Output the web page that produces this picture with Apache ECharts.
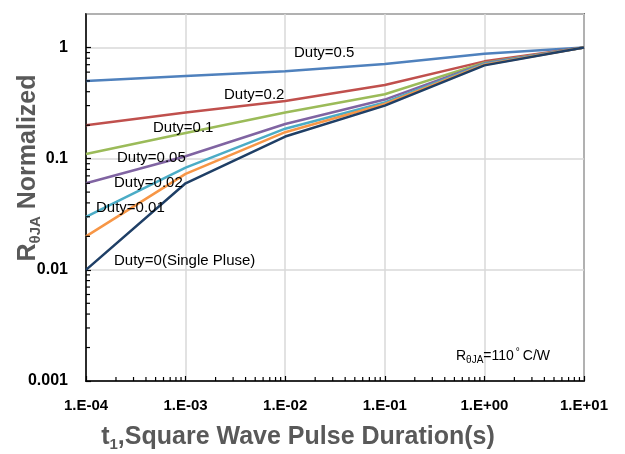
<!DOCTYPE html>
<html>
<head>
<meta charset="utf-8">
<script src="https://cdn.jsdelivr.net/npm/echarts@6/dist/echarts.min.js"></script>
<style>html,body{margin:0;padding:0;background:#fff;}#c{width:625px;height:454px;}</style>
</head>
<body>
<div id="c"></div>
<script>
const xValues = [1e-4, 1e-3, 1e-2, 1e-1, 1, 10];
const duty05 = [0.5, 0.555, 0.61, 0.71, 0.88, 1];
const duty02 = [0.2, 0.26, 0.33, 0.46, 0.75, 1];
const duty01 = [0.11, 0.17, 0.26, 0.38, 0.73, 1];
const duty005 = [0.06, 0.105, 0.205, 0.34, 0.72, 1];
const duty002 = [0.03, 0.083, 0.186, 0.32, 0.71, 1];
const duty001 = [0.02, 0.073, 0.173, 0.31, 0.70, 1];
const dutySingle = [0.01, 0.06, 0.158, 0.30, 0.69, 1];
const seriesNames = ['Duty=0.5','Duty=0.2','Duty=0.1','Duty=0.05','Duty=0.02','Duty=0.01','Duty=0(Single Pluse)'];
const xTickLabels = ['1.E-04','1.E-03','1.E-02','1.E-01','1.E+00','1.E+01'];
const yTickLabels = ['0.001','0.01','0.1','1'];
const xMinorTicks = [];
[-4,-3,-2,-1,0].forEach(k => { for (let m = 2; m <= 9; m++) xMinorTicks.push(m * Math.pow(10, k)); });
const yMinorTicks = [];
[-3,-2,-1].forEach(k => { for (let m = 2; m <= 9; m++) yMinorTicks.push(m * Math.pow(10, k)); });

const colors = ['#4F81BD','#C0504D','#9BBB59','#8064A2','#4BACC6','#F79646','#1F3F66'];
const allData = [duty05, duty02, duty01, duty005, duty002, duty001, dutySingle];

const chart = echarts.init(document.getElementById('c'));
const xMin = 1e-4, xMax = 10, yMin = 0.001, yMax = 2;

const lineSeries = allData.map((d, i) => ({
  name: seriesNames[i], type: 'line', symbol: 'none',
  data: xValues.map((x, j) => [x, d[j]]),
  lineStyle: {color: colors[i], width: 2.5}, z: 3
}));

const minorX = {
  type: 'custom', silent: true, clip: false, z: 4,
  data: xMinorTicks.map(v => [v, yMin]),
  renderItem: (params, api) => {
    const p = api.coord([api.value(0), api.value(1)]);
    return {type: 'line', shape: {x1: p[0], y1: p[1], x2: p[0], y2: p[1] - 4}, style: {stroke: '#000', lineWidth: 1.2}};
  }
};
const minorY = {
  type: 'custom', silent: true, clip: false, z: 4,
  data: yMinorTicks.map(v => [xMin, v]),
  renderItem: (params, api) => {
    const p = api.coord([api.value(0), api.value(1)]);
    return {type: 'line', shape: {x1: p[0], y1: p[1], x2: p[0] + 4, y2: p[1]}, style: {stroke: '#000', lineWidth: 1.2}};
  }
};

const annFont = '15px "Liberation Sans"';
function ann(text, x, y) {
  return {type: 'text', x: x, y: y, z: 10, style: {text: text, font: annFont, fill: '#000', textVerticalAlign: 'middle', textAlign: 'left'}};
}

chart.setOption({
  animation: false,
  backgroundColor: '#fff',
  grid: {left: 86, right: 41, top: 14, bottom: 73, show: true, borderColor: '#000', borderWidth: 1.5, backgroundColor: 'transparent'},
  xAxis: {
    type: 'log', logBase: 10, min: xMin, max: xMax,
    axisLine: {show: true, lineStyle: {color: '#000', width: 1.5}},
    axisTick: {show: true, inside: true, length: 5, lineStyle: {color: '#000', width: 1.2}},
    axisLabel: {margin: 17, fontFamily: 'Liberation Sans', fontWeight: 'bold', fontSize: 15, color: '#000', formatter: v => {
      const k = Math.round(Math.log10(v)) + 4; return xTickLabels[k] || '';
    }},
    splitLine: {show: true, lineStyle: {color: '#D9D9D9', width: 1.5}}
  },
  yAxis: {
    type: 'log', logBase: 10, min: yMin, max: yMax,
    axisLine: {show: true, lineStyle: {color: '#000', width: 1.5}},
    axisTick: {show: true, inside: true, length: 5, lineStyle: {color: '#000', width: 1.2}},
    axisLabel: {margin: 18, showMaxLabel: false, fontFamily: 'Liberation Sans', fontWeight: 'bold', fontSize: 16, color: '#000', formatter: v => {
      const l = Math.log10(v); const k = Math.round(l) + 3;
      if (Math.abs(l - Math.round(l)) > 1e-6) return '';
      return yTickLabels[k] || '';
    }},
    splitLine: {show: true, lineStyle: {color: '#D9D9D9', width: 1.5}}
  },
  series: lineSeries.concat([minorX, minorY]),
  graphic: [
    ann('Duty=0.5', 294, 53),
    ann('Duty=0.2', 224, 95),
    ann('Duty=0.1', 153, 128),
    ann('Duty=0.05', 117, 158),
    ann('Duty=0.02', 114, 183),
    ann('Duty=0.01', 96, 208),
    ann('Duty=0(Single Pluse)', 114, 261),
    {type: 'text', x: 456, y: 356, z: 10, style: {
      text: '{r|R}{s|θJA}{r|=110}{u|°}{r|C/W}', textVerticalAlign: 'middle', textAlign: 'left',
      rich: {
        r: {font: '14px "Liberation Sans"', fill: '#000', lineHeight: 18, verticalAlign: 'middle'},
        s: {font: '10px "Liberation Sans"', fill: '#000', lineHeight: 18, verticalAlign: 'bottom', padding: [4, 0, 0, 0]},
        u: {font: '10px "Liberation Sans"', fill: '#000', lineHeight: 18, verticalAlign: 'top', padding: [0, 3, 6, 2]}
      }
    }},
    {type: 'text', x: 298, y: 437, z: 10, style: {
      text: '{a|t}{b|1}{a|,Square Wave Pulse Duration(s)}', textAlign: 'center', textVerticalAlign: 'middle',
      rich: {
        a: {font: 'bold 25px "Liberation Sans"', fill: '#595959', lineHeight: 30, verticalAlign: 'middle'},
        b: {font: 'bold 15px "Liberation Sans"', fill: '#595959', lineHeight: 30, verticalAlign: 'bottom', padding: [9, 0, 0, 0]}
      }
    }},
    {type: 'text', x: 28, y: 168, rotation: Math.PI / 2, z: 10, style: {
      text: '{a|R}{b|θJA}{a| Normalized}', textAlign: 'center', textVerticalAlign: 'middle',
      rich: {
        a: {font: 'bold 25px "Liberation Sans"', fill: '#595959', lineHeight: 30, verticalAlign: 'middle'},
        b: {font: 'bold 15px "Liberation Sans"', fill: '#595959', lineHeight: 30, verticalAlign: 'bottom', padding: [9, 0, 0, 0]}
      }
    }}
  ]
});
</script>
</body>
</html>
